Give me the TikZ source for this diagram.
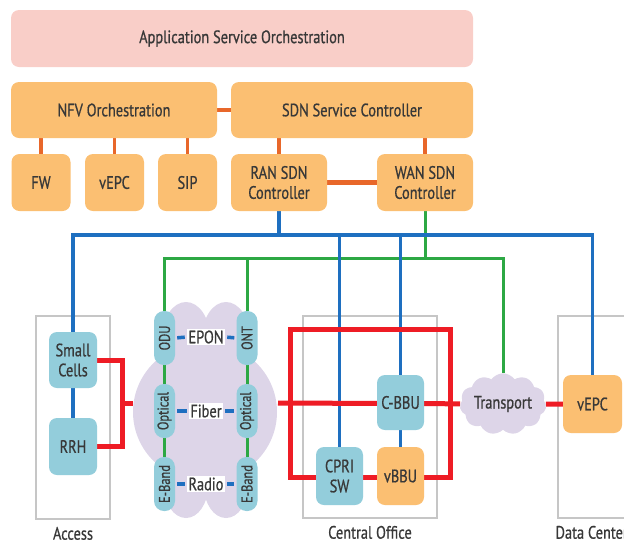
\documentclass[tikz,border=0pt]{standalone}
\usepackage{fontspec}
\setmainfont{PT Sans}[FakeStretch=0.8, RawFeature={embolden=0.7}]
\usetikzlibrary{positioning,shapes.symbols,calc}
\definecolor{orchpink}{HTML}{F9CEC8}
\definecolor{nodeorange}{HTML}{FBBF72}
\definecolor{pillblue}{HTML}{93CDDB}
\definecolor{cloudlav}{HTML}{DDD5E8}
\definecolor{ctrlorange}{HTML}{E8672A}
\definecolor{netblue}{HTML}{1E6FC0}
\definecolor{netgreen}{HTML}{2DA844}
\definecolor{netred}{HTML}{EE1C25}
\definecolor{sitegray}{HTML}{C6C6C6}
\definecolor{textgray}{HTML}{383838}
\newcommand{\diafont}{\fontsize{18}{20}\selectfont}
\newcommand{\pillfont}{\fontsize{15.5}{16}\selectfont}
\pgfdeclarelayer{regions}
\pgfdeclarelayer{links}
\pgfsetlayers{regions,links,main}
\tikzset{
  orangebox/.style={fill=nodeorange, rounded corners=8pt, text=textgray, font=\diafont, align=center, inner sep=0pt},
  orchbox/.style={orangebox, fill=orchpink},
  bluebox/.style={orangebox, fill=pillblue},
  fibrepill/.style={fill=pillblue, rounded corners=10pt, rotate=90, minimum width=54pt, minimum height=21pt, inner sep=0pt, text=textgray, font=\pillfont},
  medium/.style={fill=white, inner sep=1.5pt, text=textgray, font=\diafont},
  sitebox/.style={draw=sitegray, line width=1.3pt, fill=white},
  sitelabel/.style={text=textgray, font=\diafont, inner sep=0pt},
  ctrllink/.style={ctrlorange, line width=3.5pt},
  bluelink/.style={netblue, line width=3.5pt},
  greenlink/.style={netgreen, line width=3pt},
  redlink/.style={netred, line width=5pt},
  dotlink/.style={netblue, line width=3.5pt, shorten <=2pt, shorten >=2pt}
}
\begin{document}
\begin{tikzpicture}[x=1pt,y=-1pt]
  \useasboundingbox (0,0) rectangle (624,539);
  % orchestration and control
  \node[orchbox, minimum width=462pt, minimum height=57pt] (aso) at (242,38.5) {Application Service Orchestration};
  \node[orangebox, minimum width=206pt, minimum height=56pt] (nfvo) at (114,110) {NFV Orchestration};
  \node[orangebox, minimum width=242pt, minimum height=56pt] (sdnsc) at (352,110) {SDN Service Controller};
  \foreach \name/\x/\txt in {fw/41/FW, vepcn/114.5/vEPC, sip/187.5/SIP} {
    \node[orangebox, minimum width=59pt, minimum height=57pt] (\name) at (\x,182.5) {\txt};
  }
  \node[orangebox, minimum width=96pt, minimum height=57pt] (ransdn) at (279,182.5) {RAN SDN\\Controller};
  \node[orangebox, minimum width=96pt, minimum height=57pt] (wansdn) at (425,182.5) {WAN SDN\\Controller};
  % sites
  \begin{pgfonlayer}{regions}
    \node[sitebox, minimum width=74pt, minimum height=203pt] (access) at (73,417.5) {};
    \node[sitebox, minimum width=134pt, minimum height=202pt] (coffice) at (370,417) {};
    \node[sitebox, minimum width=100pt, minimum height=202pt] (dcenter) at (608,417) {};
    \fill[cloudlav] (205,412) ellipse [x radius=72pt, y radius=70pt];
    \fill[cloudlav] (186,338) ellipse [x radius=24pt, y radius=36pt];
    \fill[cloudlav] (226,338) ellipse [x radius=24pt, y radius=36pt];
    \fill[cloudlav] (186,486) ellipse [x radius=22pt, y radius=32pt];
    \fill[cloudlav] (226,486) ellipse [x radius=22pt, y radius=32pt];
  \end{pgfonlayer}
  \node[sitelabel, below=7pt of access] {Access};
  \node[sitelabel, below=7pt of coffice] {Central Office};
  \node[sitelabel, below=7pt of dcenter.south west, anchor=north west, xshift=-2pt] {Data Center};
  % access
  \node[bluebox, minimum width=48pt, minimum height=56pt] (smallc) at (73,360) {Small\\Cells};
  \node[bluebox, minimum width=48pt, minimum height=57pt] (rrh) at (73,446.5) {RRH};
  % fronthaul media
  \foreach \name/\y/\txt in {odu/338/ODU, optl/411/Optical, ebl/484/E-Band} {
    \node[fibrepill] (\name) at (164.5,\y) {\txt};
  }
  \foreach \name/\y/\txt in {ont/338/ONT, optr/411/Optical, ebr/484/E-Band} {
    \node[fibrepill] (\name) at (247,\y) {\txt};
  }
  \node[medium] (epon) at (206,337) {EPON};
  \node[medium] (fiber) at (206,411) {Fiber};
  \node[medium] (radio) at (206,484) {Radio};
  % central office and data center
  \node[bluebox, minimum width=47pt, minimum height=55pt] (cbbu) at (400.5,402.5) {C-BBU};
  \node[bluebox, minimum width=47pt, minimum height=58pt] (cprisw) at (339.5,476) {CPRI\\SW};
  \node[orangebox, minimum width=47pt, minimum height=58pt] (vbbu) at (400.5,476) {vBBU};
  \node[cloud, cloud puffs=11, cloud puff arc=110, aspect=1.6, fill=cloudlav, text=textgray, font=\diafont, minimum width=83pt, minimum height=58pt, inner sep=0pt] (transport) at (503,404) {Transport};
  \node[orangebox, minimum width=59pt, minimum height=58pt] (vepcdc) at (592.5,404) {vEPC};
  \coordinate (bbus) at (0,235);
  \coordinate (gbus) at (0,258);
  \coordinate (rjoin) at (122,403);
  \coordinate (cloudw) at (133,403);
  \coordinate (cloude) at (278,403);
  \coordinate (ringnw) at (290,329);
  \coordinate (ringse) at (450,477);
  \begin{pgfonlayer}{links}
    \draw[ctrllink] (nfvo.east) -- (sdnsc.west);
    \foreach \name in {fw,vepcn,sip}
      \draw[ctrllink] (\name.north) -- (\name.north |- nfvo.south);
    \draw[ctrllink] (ransdn.north) -- (ransdn.north |- sdnsc.south);
    \draw[ctrllink] (wansdn.north) -- (wansdn.north |- sdnsc.south);
    \draw[ctrllink, line width=5pt] (ransdn.east) -- (wansdn.west);
    % green control bus
    \draw[greenlink] (wansdn) -- (wansdn |- gbus);
    \draw[greenlink] (odu) |- (transport |- gbus) -- (transport);
    \draw[greenlink] (ont) -- (ont |- gbus);
    \draw[greenlink] (odu) -- (ebl);
    \draw[greenlink] (ont) -- (ebr);
    % blue control bus
    \draw[bluelink] (smallc) |- (vepcdc |- bbus) -- (vepcdc);
    \draw[bluelink] (ransdn) -- (ransdn |- bbus);
    \draw[bluelink] (cprisw) -- (cprisw |- bbus);
    \draw[bluelink] (cbbu) -- (cbbu |- bbus);
    \draw[bluelink] (cbbu) -- (vbbu);
    \draw[bluelink] (smallc) -- (rrh);
    % data path
    \draw[redlink] (smallc.east) -| (rjoin) |- (rrh.east);
    \draw[redlink] (rjoin) -- (cloudw);
    \draw[redlink] (cloude) -- (transport);
    \draw[redlink] (ringnw) rectangle (ringse);
    \draw[redlink] (transport) -- (vepcdc);
  \end{pgfonlayer}
  \draw[dotlink] (odu.south) -- (epon.west);
  \draw[dotlink] (epon.east) -- (ont.north);
  \draw[dotlink] (optl.south) -- (fiber.west);
  \draw[dotlink] (fiber.east) -- (optr.north);
  \draw[dotlink] (ebl.south) -- (radio.west);
  \draw[dotlink] (radio.east) -- (ebr.north);
\end{tikzpicture}
\end{document}
